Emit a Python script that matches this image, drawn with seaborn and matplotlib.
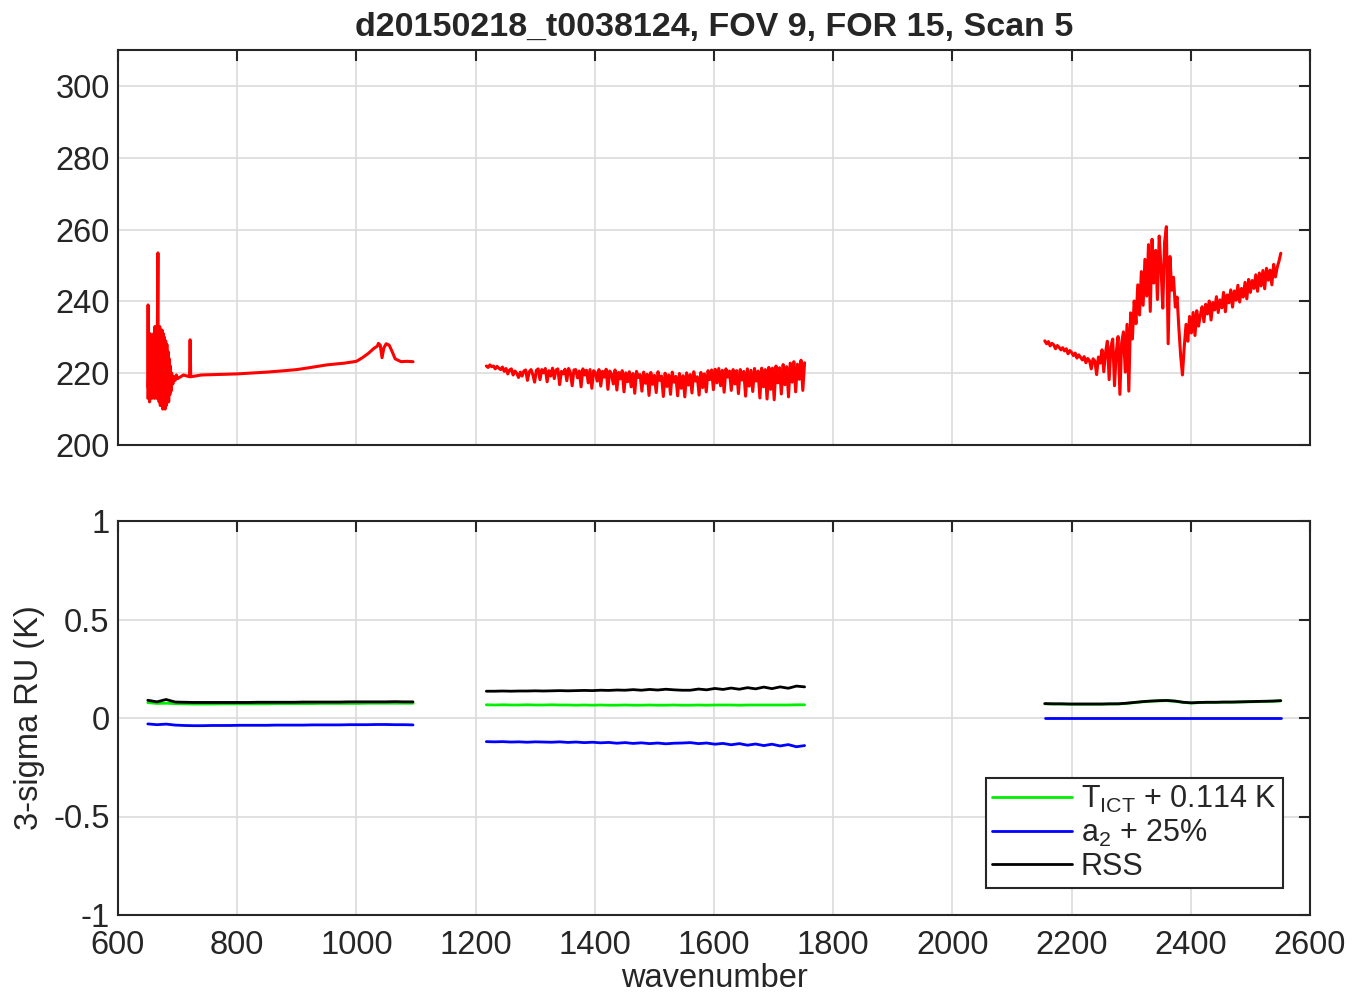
import numpy as np
import pandas as pd
import matplotlib
matplotlib.use("Agg")
import matplotlib.pyplot as plt
import seaborn as sns

# ---------------- data ----------------
title = "d20150218_t0038124, FOV 9, FOR 15, Scan 5"

# Top panel: brightness temperature (K), LW band (irregular sampling)
lw_wn = [650, 650.5, 651, 652, 653, 654, 655, 656, 657, 658, 659, 660, 661, 662, 663,
         664, 665, 666, 667, 667.5, 668, 669, 670, 671, 672, 673, 674, 675, 676, 677,
         678, 679, 680, 681, 682, 683, 684, 685, 686, 687, 688, 689, 690, 692, 694,
         696, 698, 700, 710, 720, 721, 722, 740, 760, 800, 850, 880, 900, 920, 950,
         980, 1000, 1010, 1020,
         1030, 1035, 1037, 1040, 1043, 1046, 1050, 1055, 1060, 1065, 1075, 1085, 1095]
lw_bt = [213, 239, 216, 230, 212, 231, 214, 229, 213, 230, 222, 231, 213, 233, 215,
         232, 213, 232, 253.5, 225, 232, 212, 233, 211, 232, 211, 232, 210, 231, 211,
         230, 210, 229, 211, 228, 212, 226, 212, 224, 214, 222, 215, 220, 217, 219,
         218, 219.5, 218.5, 219.5, 219, 229.3, 219, 219.5, 219.6, 219.8, 220.3, 220.7, 221, 221.5, 222.3,
         222.8, 223.3, 224.3, 225.5,
         227, 227.5, 228.3, 227.8, 224.3, 227, 228.2, 227.8, 226, 224, 223.2, 223.3, 223.2]

# MW band: start, step
mw_start, mw_step = 1218, 3
mw_bt = [222, 221.6, 222.3, 221.8, 222, 221.2, 221.9, 221.4, 221, 221.7,
         220.5, 221.3, 219.8, 220.9, 221.2, 219.5, 220.6, 220, 218.8, 220.3,
         219.2, 220.6, 220.9, 218, 220.4, 221, 219.6, 217.5, 220.8, 221.2,
         218.2, 221, 220.1, 221.3, 217.6, 220.7, 219.2, 221.4, 218.5, 220.9,
         221.2, 216.8, 220.5, 219.8, 221.1, 217.9, 221.3, 220.2, 216.5, 220.9,
         221, 218.7, 220.6, 216.2, 221.2, 219.5, 220.8, 217.3, 221, 215.8,
         220.7, 220.2, 217.8, 221, 216.4, 220.5, 218.9, 221.1, 215.5, 220.6,
         219.8, 217, 220.9, 215.3, 220.2, 218.4, 220.7, 214.8, 220.1, 217.6,
         220.4, 216.2, 219.9, 214.4, 220.5, 218.8, 219.6, 215, 220.3, 217.2,
         219.7, 213.8, 220.2, 216.9, 219.4, 214.6, 220.4, 218, 219.2, 213.5,
         220, 216.3, 219.5, 214.1, 220.3, 217.5, 219.1, 213.7, 219.9, 215.8,
         219.3, 213.4, 220.1, 216.7, 219.6, 214.5, 220.4, 217.8, 219, 213.9,
         220.2, 216, 219.8, 214.8, 220.7, 218.2, 220.9, 215.4, 221.1, 217.3,
         221.3, 216.5, 220.8, 214.7, 221.2, 218.9, 220.6, 215.2, 221, 217,
         220.7, 214.3, 221, 218.1, 220.5, 213.6, 221.2, 216.4, 220.8, 214.9,
         221.3, 217.8, 220.6, 213.1, 221.4, 216.2, 221, 212.8, 221.6, 215.5,
         221.4, 212.6, 222, 217.3, 221.5, 214.2, 222.4, 216.8, 221.8, 213.4,
         222.8, 217.5, 223.2, 214.8, 222.5, 218.3, 223.6, 215.2, 222.9]

# SW band: start, step
sw_start, sw_step = 2155, 3
sw_bt = [229, 228.2, 228.8, 227.6, 228.3, 227.9, 226.8, 227.7, 227.2, 226.5,
         227.1, 226.2, 226.8, 225.4, 226.3, 225.8, 224.9, 225.6, 224.2, 225.1,
         224.4, 223.7, 224.6, 222.9, 224.1, 223.5, 221.2, 224, 223.4, 219.6,
         224.5, 222.8, 226.5, 220.4, 225.8, 228.9, 218.2, 227.4, 229.5, 216.5,
         226, 230.2, 214.1, 228.5, 231.5, 220.3, 233.6, 215, 236.8, 229.5,
         240.1, 233.8, 244.6, 236.2, 248.3, 238.9, 251.7, 241.5, 255.8, 237.2,
         257.3, 245.1, 254.2, 240.5, 258.2, 249.6, 238.1, 256.4, 260.8, 228.2,
         252.5, 243.1, 246.7, 238.4, 241.2, 232.5, 224.8, 219.5, 227.3, 233.6,
         228.9, 235.8, 231.2, 236.9, 230.5, 237.4, 233.1, 236.2, 238.5, 234.3,
         239.2, 236.5, 240.1, 234.8, 239.7, 237.6, 241.3, 236.9, 240.4, 238.2,
         242.5, 237.1, 241.8, 239.6, 243.2, 238.4, 242.9, 240.3, 244.5, 239.8,
         243.6, 241.2, 245.3, 240.7, 246.1, 242.5, 245.8, 243.6, 247.4, 242.8,
         247.9, 244.3, 248.6, 243.5, 249.2, 245.9, 248.7, 244.6, 250.3, 246.8,
         249.5, 251.2, 253.4]

# Bottom panel: 3-sigma radiometric uncertainty (K)
lw_ru_range = (650, 1095)
lw_tict = [0.078, 0.074, 0.075, 0.073, 0.072, 0.071, 0.071, 0.071, 0.072, 0.072,
           0.072, 0.072, 0.072, 0.072, 0.073, 0.073, 0.073, 0.073, 0.073, 0.074,
           0.074, 0.074, 0.074, 0.074, 0.075, 0.075, 0.075, 0.075, 0.075, 0.075]
lw_a2 = [-0.030, -0.034, -0.031, -0.036, -0.038, -0.039, -0.039, -0.038, -0.038, -0.038,
         -0.037, -0.037, -0.037, -0.037, -0.036, -0.036, -0.036, -0.036, -0.035, -0.035,
         -0.035, -0.035, -0.034, -0.034, -0.034, -0.033, -0.033, -0.034, -0.034, -0.035]
lw_rss = [0.090, 0.082, 0.094, 0.081, 0.080, 0.079, 0.079, 0.079, 0.079, 0.079,
          0.079, 0.079, 0.080, 0.080, 0.080, 0.080, 0.080, 0.081, 0.081, 0.081,
          0.081, 0.081, 0.082, 0.082, 0.082, 0.082, 0.082, 0.083, 0.082, 0.082]

mw_ru_range = (1218, 1752)
mw_tict = [0.067, 0.066, 0.067, 0.066, 0.066, 0.067, 0.066, 0.066, 0.067, 0.066,
           0.066, 0.065, 0.066, 0.065, 0.066, 0.065, 0.065, 0.066, 0.065, 0.065,
           0.066, 0.065, 0.065, 0.066, 0.065, 0.065, 0.066, 0.065, 0.066, 0.066,
           0.066, 0.065, 0.066, 0.066, 0.066, 0.066, 0.066, 0.066, 0.067, 0.067]
mw_a2 = [-0.120, -0.121, -0.120, -0.122, -0.121, -0.123, -0.121, -0.122, -0.123, -0.121,
         -0.124, -0.122, -0.125, -0.123, -0.126, -0.124, -0.128, -0.125, -0.129, -0.126,
         -0.130, -0.127, -0.131, -0.128, -0.127, -0.125, -0.130, -0.127, -0.133, -0.129,
         -0.136, -0.130, -0.138, -0.132, -0.140, -0.133, -0.142, -0.135, -0.146, -0.140]
mw_rss = [0.136, 0.136, 0.137, 0.136, 0.137, 0.137, 0.138, 0.137, 0.138, 0.139,
          0.138, 0.139, 0.140, 0.139, 0.141, 0.140, 0.142, 0.141, 0.144, 0.141,
          0.145, 0.142, 0.146, 0.143, 0.141, 0.141, 0.147, 0.143, 0.150, 0.145,
          0.152, 0.146, 0.154, 0.148, 0.157, 0.149, 0.158, 0.151, 0.162, 0.158]

sw_ru_range = (2155, 2551)
sw_a2 = [-0.001, -0.001, -0.001, -0.001, -0.001, -0.001, -0.001, -0.001, -0.001, -0.001,
         -0.001, -0.001, -0.001, -0.001, -0.001, -0.001, -0.001, -0.001, -0.001, -0.001,
         -0.001, -0.001, -0.001, -0.001, -0.001, -0.001, -0.001, -0.001, -0.001, -0.001]
sw_rss = [0.073, 0.072, 0.072, 0.071, 0.071, 0.071, 0.071, 0.071, 0.072, 0.072,
          0.075, 0.079, 0.083, 0.086, 0.088, 0.089, 0.086, 0.080, 0.077, 0.079,
          0.080, 0.080, 0.081, 0.081, 0.082, 0.083, 0.084, 0.085, 0.086, 0.088]
sw_tict = [0.072, 0.071, 0.071, 0.070, 0.070, 0.070, 0.070, 0.070, 0.071, 0.071,
           0.074, 0.078, 0.082, 0.085, 0.087, 0.088, 0.085, 0.079, 0.076, 0.078,
           0.079, 0.079, 0.080, 0.080, 0.081, 0.082, 0.083, 0.084, 0.085, 0.087]

legend_labels = [r"$\mathregular{T_{ICT}}$ + 0.114 K", r"$\mathregular{a_2}$ + 25%", "RSS"]

# ---------------- style ----------------
sns.set_style("white")
plt.rcParams["font.family"] = ["Liberation Sans", "DejaVu Sans"]
plt.rcParams["mathtext.fontset"] = "custom"
plt.rcParams["mathtext.rm"] = "Liberation Sans"
plt.rcParams["mathtext.it"] = "Liberation Sans"

TXT = "#262626"
FS = 23.5
fig = plt.figure(figsize=(13.52, 9.92), dpi=100)
ax1 = fig.add_axes([118 / 1352, 1 - 445 / 992, (1310 - 118) / 1352, (445 - 50) / 992])
ax2 = fig.add_axes([118 / 1352, 1 - 915 / 992, (1310 - 118) / 1352, (915 - 521) / 992])

# build frames
mw_wn = mw_start + mw_step * np.arange(len(mw_bt))
sw_wn = sw_start + sw_step * np.arange(len(sw_bt))
top = pd.concat([
    pd.DataFrame({"wn": lw_wn, "bt": lw_bt, "band": "LW"}),
    pd.DataFrame({"wn": mw_wn, "bt": mw_bt, "band": "MW"}),
    pd.DataFrame({"wn": sw_wn, "bt": sw_bt, "band": "SW"}),
])
for band, d in top.groupby("band"):
    sns.lineplot(data=d, x="wn", y="bt", ax=ax1, color="#ff0000", lw=2.2,
                 estimator=None, sort=False, legend=False)

series_colors = {"tict": "#00ee00", "a2": "#0000ff", "rss": "#000000"}
bands = [(lw_ru_range, lw_tict, lw_a2, lw_rss),
         (mw_ru_range, mw_tict, mw_a2, mw_rss),
         (sw_ru_range, sw_tict, sw_a2, sw_rss)]
for i, (rng, tict, a2, rss) in enumerate(bands):
    x = np.linspace(rng[0], rng[1], len(tict))
    for key, vals, lab in (("tict", tict, legend_labels[0]), ("a2", a2, legend_labels[1]),
                           ("rss", rss, legend_labels[2])):
        d = pd.DataFrame({"wn": x, "ru": vals})
        sns.lineplot(data=d, x="wn", y="ru", ax=ax2, color=series_colors[key], lw=2,
                     estimator=None, sort=False, label=lab if i == 0 else None, legend=False)

for ax in (ax1, ax2):
    ax.set_xlim(600, 2600)
    ax.set_xticks(np.arange(600, 2601, 200))
    ax.grid(True, color="#dcdcdc", lw=1.2)
    ax.set_axisbelow(True)
    ax.tick_params(direction="in", length=8, width=1.5, top=True, right=True,
                   labelsize=FS, colors=TXT, pad=6)
    ax.tick_params(axis="x", pad=11)
    for s in ax.spines.values():
        s.set_color(TXT)
        s.set_linewidth(1.5)
    ax.set_xlabel("")
    ax.set_ylabel("")

ax1.set_ylim(200, 310)
ax1.set_yticks(np.arange(200, 301, 20))
ax1.set_xticklabels([])
ax1.set_title(title, fontsize=24.5, fontweight="bold", pad=10)

ax2.set_ylim(-1, 1)
ax2.set_yticks([-1, -0.5, 0, 0.5, 1])
ax2.set_yticklabels(["-1", "-0.5", "0", "0.5", "1"])
ax2.set_xlabel("wavenumber", fontsize=FS, color=TXT, labelpad=1)
ax2.set_ylabel("3-sigma RU (K)", fontsize=FS, color=TXT, labelpad=6)

h, l = ax2.get_legend_handles_labels()
leg = ax2.legend(h, l, loc="lower right", bbox_to_anchor=(0.977, 0.068), fontsize=22,
                 handlelength=2.6, handletextpad=0.3, labelspacing=0.1, borderpad=0.2,
                 borderaxespad=0, fancybox=False, framealpha=1, edgecolor=TXT)
leg.get_frame().set_linewidth(1.5)
for t in leg.get_texts():
    t.set_color(TXT)

fig.savefig("out.png", dpi=100)
